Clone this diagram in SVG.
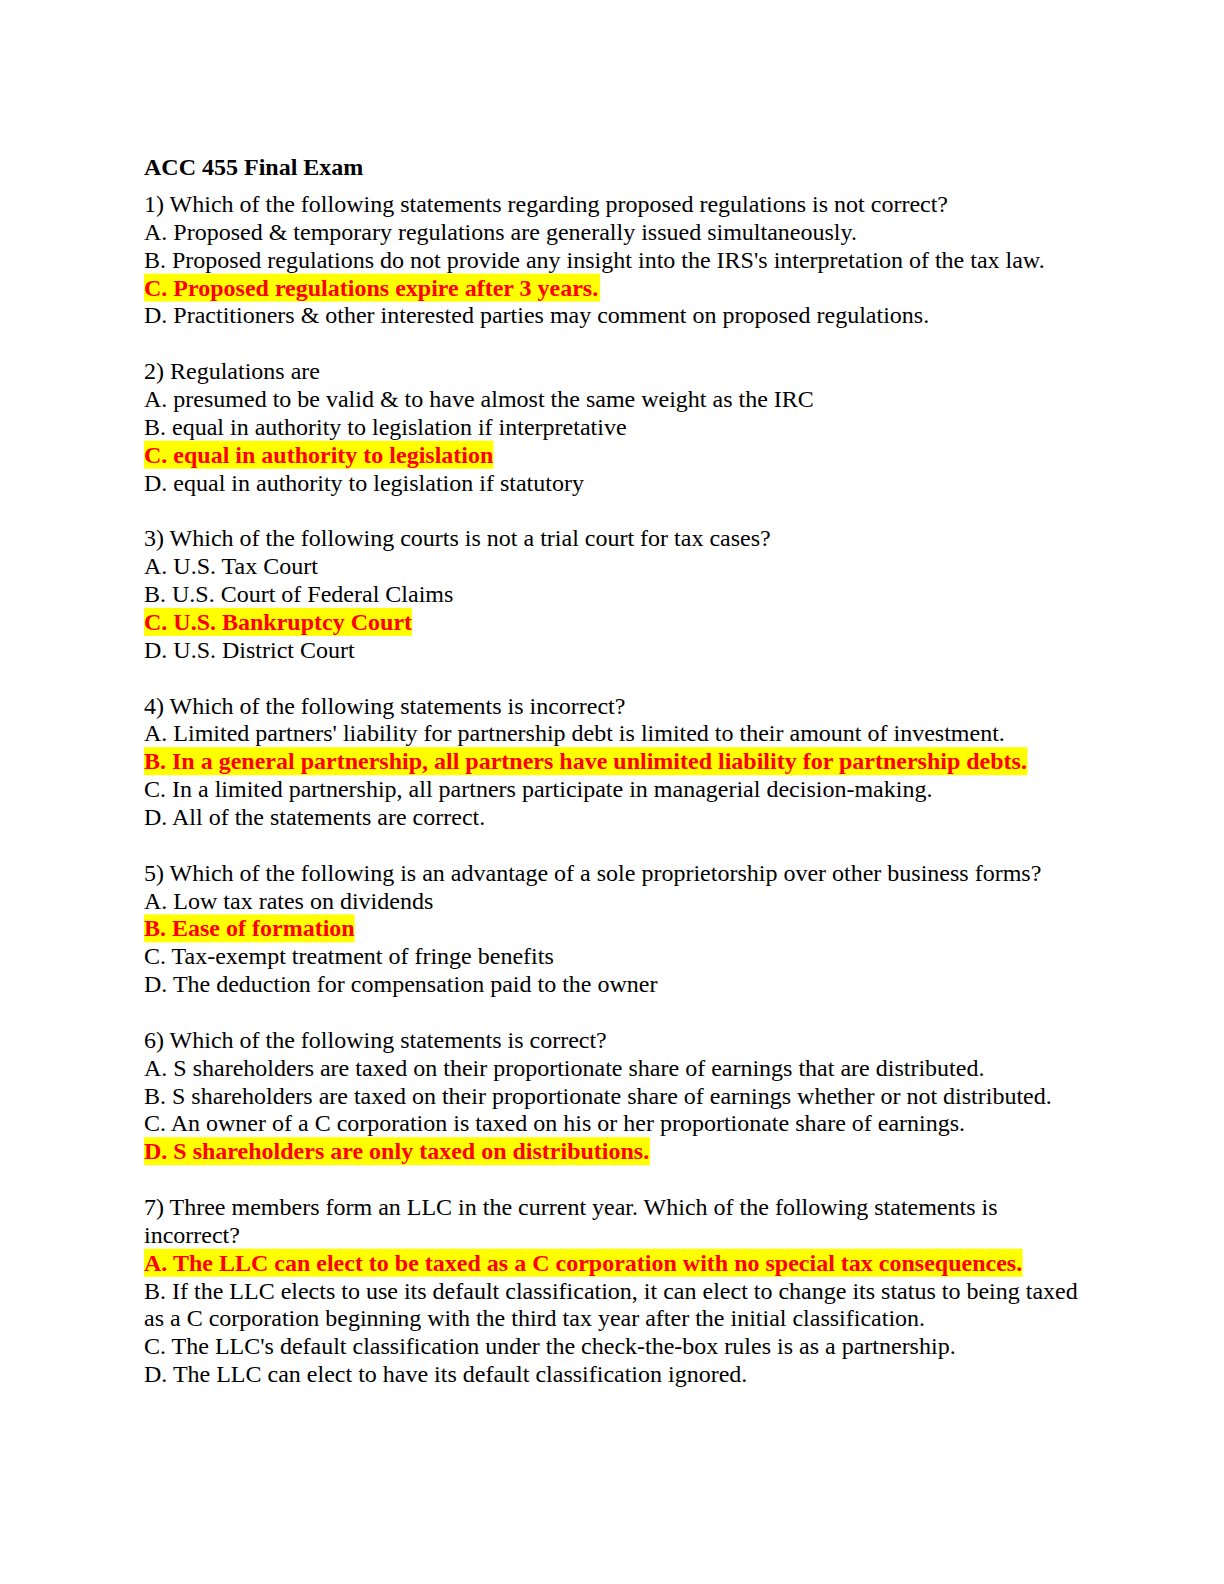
<svg xmlns="http://www.w3.org/2000/svg" width="1224" height="1584" viewBox="0 0 1224 1584">
<style>
text{font-family:"Liberation Serif","Times New Roman",serif;font-size:24px;fill:#000}
.b{font-weight:bold}
.ans{font-weight:bold;fill:#FF0000}
.hl{fill:#FFFF00}
</style>
<rect width="1224" height="1584" fill="#fff"/>
<g id="title"><text class="b" x="144" y="175">ACC 455 Final Exam</text></g>
<g id="q1">
<text x="144" y="212">1) Which of the following statements regarding proposed regulations is not correct?</text>
<text x="144" y="239.9">A. Proposed &amp; temporary regulations are generally issued simultaneously.</text>
<text x="144" y="267.7">B. Proposed regulations do not provide any insight into the IRS's interpretation of the tax law.</text>
<rect class="hl" x="144" y="273.6" width="456" height="28"/>
<text class="ans" x="144" y="295.6">C. Proposed regulations expire after 3 years.</text>
<text x="144" y="323.4">D. Practitioners &amp; other interested parties may comment on proposed regulations.</text>
</g>
<g id="q2">
<text x="144" y="379.2">2) Regulations are</text>
<text x="144" y="407">A. presumed to be valid &amp; to have almost the same weight as the IRC</text>
<text x="144" y="434.9">B. equal in authority to legislation if interpretative</text>
<rect class="hl" x="144" y="440.7" width="349.4" height="28"/>
<text class="ans" x="144" y="462.7">C. equal in authority to legislation</text>
<text x="144" y="490.6">D. equal in authority to legislation if statutory</text>
</g>
<g id="q3">
<text x="144" y="546.3">3) Which of the following courts is not a trial court for tax cases?</text>
<text x="144" y="574.2">A. U.S. Tax Court</text>
<text x="144" y="602">B. U.S. Court of Federal Claims</text>
<rect class="hl" x="144" y="607.9" width="268" height="28"/>
<text class="ans" x="144" y="629.9">C. U.S. Bankruptcy Court</text>
<text x="144" y="657.8">D. U.S. District Court</text>
</g>
<g id="q4">
<text x="144" y="713.5">4) Which of the following statements is incorrect?</text>
<text x="144" y="741.3">A. Limited partners' liability for partnership debt is limited to their amount of investment.</text>
<rect class="hl" x="144" y="747.2" width="883.4" height="28"/>
<text class="ans" x="144" y="769.2">B. In a general partnership, all partners have unlimited liability for partnership debts.</text>
<text x="144" y="797.1">C. In a limited partnership, all partners participate in managerial decision-making.</text>
<text x="144" y="824.9">D. All of the statements are correct.</text>
</g>
<g id="q5">
<text x="144" y="880.6">5) Which of the following is an advantage of a sole proprietorship over other business forms?</text>
<text x="144" y="908.5">A. Low tax rates on dividends</text>
<rect class="hl" x="144" y="914.4" width="210.6" height="28"/>
<text class="ans" x="144" y="936.4">B. Ease of formation</text>
<text x="144" y="964.2">C. Tax-exempt treatment of fringe benefits</text>
<text x="144" y="992.1">D. The deduction for compensation paid to the owner</text>
</g>
<g id="q6">
<text x="144" y="1047.8">6) Which of the following statements is correct?</text>
<text x="144" y="1075.7">A. S shareholders are taxed on their proportionate share of earnings that are distributed.</text>
<text x="144" y="1103.5">B. S shareholders are taxed on their proportionate share of earnings whether or not distributed.</text>
<text x="144" y="1131.4">C. An owner of a C corporation is taxed on his or her proportionate share of earnings.</text>
<rect class="hl" x="144" y="1137.2" width="506" height="28"/>
<text class="ans" x="144" y="1159.2">D. S shareholders are only taxed on distributions.</text>
</g>
<g id="q7">
<text x="144" y="1215">7) Three members form an LLC in the current year. Which of the following statements is</text>
<text x="144" y="1242.8">incorrect?</text>
<rect class="hl" x="144" y="1248.7" width="878.6" height="28"/>
<text class="ans" x="144" y="1270.7">A. The LLC can elect to be taxed as a C corporation with no special tax consequences.</text>
<text x="144" y="1298.5">B. If the LLC elects to use its default classification, it can elect to change its status to being taxed</text>
<text x="144" y="1326.4">as a C corporation beginning with the third tax year after the initial classification.</text>
<text x="144" y="1354.3">C. The LLC's default classification under the check-the-box rules is as a partnership.</text>
<text x="144" y="1382.1">D. The LLC can elect to have its default classification ignored.</text>
</g>
</svg>
